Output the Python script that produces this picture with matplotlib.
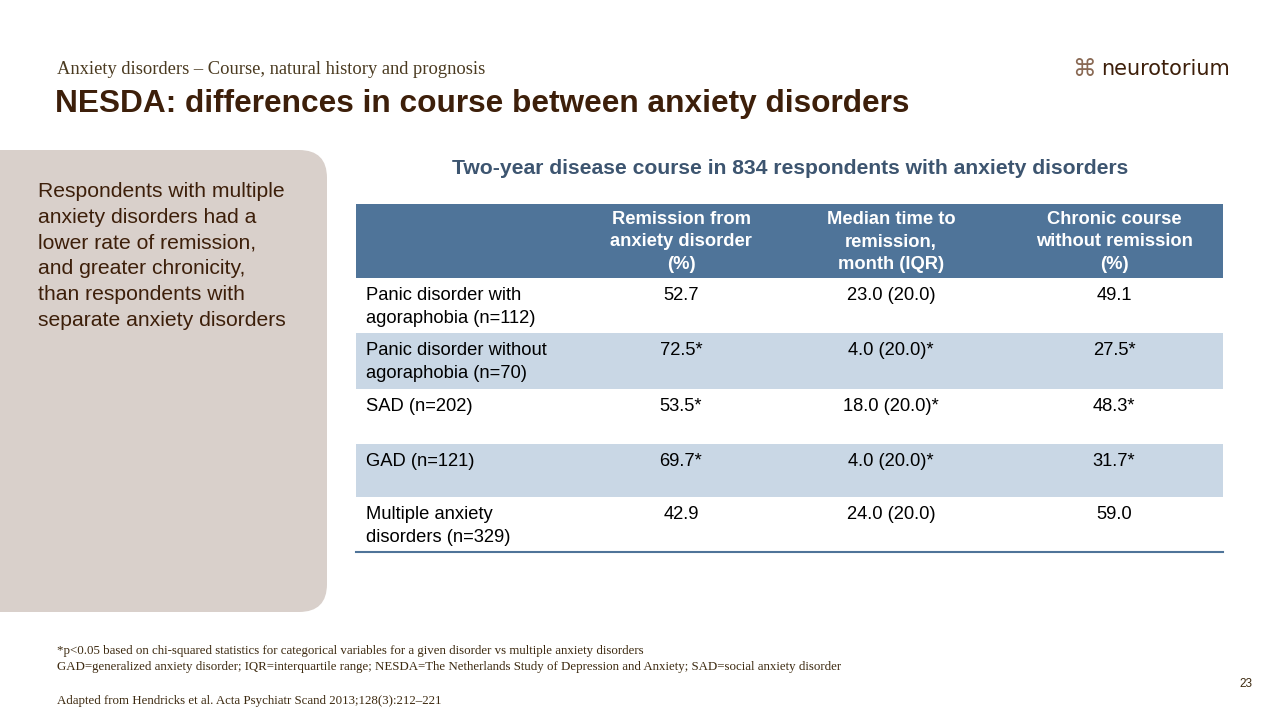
import matplotlib.pyplot as plt
from matplotlib.patches import FancyBboxPatch, Rectangle

# table content
rows = ['Panic disorder with\nagoraphobia (n=112)',
        'Panic disorder without\nagoraphobia (n=70)',
        'SAD (n=202)',
        'GAD (n=121)',
        'Multiple anxiety\ndisorders (n=329)']
headers = ['Remission from\nanxiety disorder\n(%)',
           'Median time to\nremission,\nmonth (IQR)',
           'Chronic course\nwithout remission\n(%)']
remission = ['52.7', '72.5*', '53.5*', '69.7*', '42.9']
median_time = ['23.0 (20.0)', '4.0 (20.0)*', '18.0 (20.0)*', '4.0 (20.0)*', '24.0 (20.0)']
chronic = ['49.1', '27.5*', '48.3*', '31.7*', '59.0']

brown = '#3d1f0a'
head_col = '#4f7499'
alt_col = '#c9d7e5'

fig = plt.figure(figsize=(12.8, 7.2), dpi=100)
ax = fig.add_axes([0, 0, 1, 1])
ax.set_xlim(0, 1280)
ax.set_ylim(720, 0)
ax.axis('off')

ax.text(57, 70, 'Anxiety disorders – Course, natural history and prognosis', fontsize=13.3,
        family='Liberation Serif', color='#4a3a20', va='center')
ax.text(55, 104, 'NESDA: differences in course between anxiety disorders', fontsize=22.8,
        fontweight='bold', color=brown, va='center', family='Liberation Sans')
ax.text(1101, 69, 'neurotorium', fontsize=15, color=brown, va='center', family='DejaVu Sans')
ax.text(1084, 69, '⌘', fontsize=17, color='#8a6a55', va='center', ha='center', family='DejaVu Sans')

# left panel with rounded top-right corner
ax.add_patch(Rectangle((0, 150), 300, 462, color='#d9d0cb', lw=0))
ax.add_patch(FancyBboxPatch((250, 150), 77, 462, boxstyle='round,pad=0,rounding_size=28',
                            color='#d9d0cb', lw=0))
ax.text(38, 182, 'Respondents with multiple\nanxiety disorders had a\nlower rate of remission,\n'
        'and greater chronicity,\nthan respondents with\nseparate anxiety disorders',
        fontsize=15.2, color=brown, va='top', linespacing=1.45, family='Liberation Sans')

ax.text(790, 168, 'Two-year disease course in 834 respondents with anxiety disorders', fontsize=15.2,
        fontweight='bold', color='#3d5570', ha='center', va='center', family='Liberation Sans')

x0, x1 = 356, 1223
col_x = [681, 891, 1114]
ax.add_patch(Rectangle((x0, 204), x1 - x0, 74, color=head_col, lw=0))
for cx, h in zip(col_x, headers):
    ax.text(cx, 242, h, fontsize=13.2, fontweight='bold', color='white', ha='center',
            va='center', linespacing=1.4, family='Liberation Sans')

row_y = [278, 333, 389, 444, 497, 552]
for i, name in enumerate(rows):
    top = row_y[i]
    if i % 2 == 1:
        ax.add_patch(Rectangle((x0, top), x1 - x0, row_y[i + 1] - top, color=alt_col, lw=0))
    ax.text(366, top + 9, name, fontsize=13.2, color='black', va='top', linespacing=1.45,
            family='Liberation Sans')
    for cx, vals in zip(col_x, [remission, median_time, chronic]):
        ax.text(cx, top + 9, vals[i], fontsize=13.2, color='black', ha='center', va='top',
                family='Liberation Sans')
ax.plot([x0, x1], [552, 552], color=head_col, lw=1.5)

foot = dict(fontsize=9.3, family='Liberation Serif', color='#3d2a10', va='center')
ax.text(57, 651, '*p<0.05 based on chi-squared statistics for categorical variables for a given disorder vs multiple anxiety disorders', **foot)
ax.text(57, 667, 'GAD=generalized anxiety disorder; IQR=interquartile range; NESDA=The Netherlands Study of Depression and Anxiety; SAD=social anxiety disorder', **foot)
ax.text(57, 701, 'Adapted from Hendricks et al. Acta Psychiatr Scand 2013;128(3):212–221', **foot)
ax.text(1252, 684, '23', fontsize=8.5, color='#3d2a10', ha='right', va='center',
        family='Liberation Sans')

fig.savefig('out.png', dpi=100, facecolor='white')
